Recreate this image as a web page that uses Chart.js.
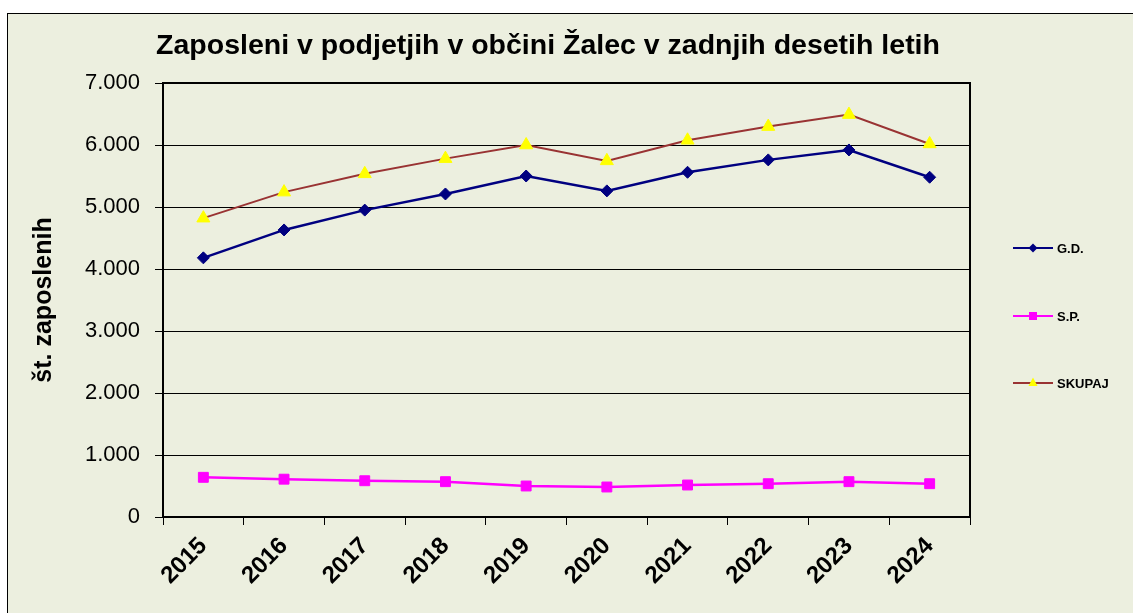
<!DOCTYPE html>
<html>
<head>
<meta charset="utf-8">
<script src="https://cdn.jsdelivr.net/npm/chart.js@4.4.1/dist/chart.umd.min.js"></script>
<style>
  html, body { margin:0; padding:0; background:#fff; width:1133px; height:613px; overflow:hidden; font-family:'Liberation Sans', Arial, sans-serif; }
  #frame { position:absolute; left:7px; top:13px; width:1126px; height:600px; border-left:1px solid #000; border-top:1px solid #000; background:#ECEFDF; box-sizing:border-box; }
  #chart { position:absolute; left:0; top:0; }
  #title { position:absolute; left:540px; top:16px; transform:translateX(-50%); white-space:nowrap; font-weight:bold; font-size:28.5px; line-height:1; color:#000; }
  .leg { position:absolute; left:1005px; height:16px; display:flex; align-items:center; font-weight:bold; font-size:13px; color:#000; }
  .leg svg { margin-right:4px; }
</style>
</head>
<body>
<div id="frame">
  <canvas id="chart" width="1125" height="599"></canvas>
  <div id="title">Zaposleni v podjetjih v občini Žalec v zadnjih desetih letih</div>
  <div class="leg" style="top:226px">
    <svg width="40" height="14"><line x1="0" y1="7" x2="40" y2="7" stroke="#000080" stroke-width="2"/><polygon points="20,2.5 24.5,7 20,11.5 15.5,7" fill="#000080"/></svg>G.D.
  </div>
  <div class="leg" style="top:294px">
    <svg width="40" height="14"><line x1="0" y1="7" x2="40" y2="7" stroke="#FF00FF" stroke-width="2"/><rect x="16" y="3" width="8" height="8" fill="#FF00FF"/></svg>S.P.
  </div>
  <div class="leg" style="top:361px">
    <svg width="40" height="14"><line x1="0" y1="7" x2="40" y2="7" stroke="#993333" stroke-width="2"/><polygon points="20,1.5 24.5,10 15.5,10" fill="#FFFF00"/></svg>SKUPAJ
  </div>
</div>
<script>
  // podatki, odčitani z grafa
  let years = ['2015','2016','2017','2018','2019','2020','2021','2022','2023','2024'];
  let gd = [4180, 4630, 4950, 5210, 5500, 5260, 5560, 5760, 5920, 5480];
  let sp = [640, 610, 585, 570, 500, 484, 516, 537, 570, 537];
  let skupaj = [4820, 5240, 5535, 5780, 6000, 5744, 6076, 6297, 6490, 6017];
  let yTicks = [0, 1000, 2000, 3000, 4000, 5000, 6000, 7000];

  function fmt(v) {
    return String(v).replace(/\B(?=(\d{3})+(?!\d))/g, '.');
  }

  //top and right edge of the plot area
  const frameLines = {
    id: 'frameLines',
    beforeDatasetsDraw(chart) {
      const ctx = chart.ctx;
      const a = chart.chartArea;
      ctx.save();
      ctx.strokeStyle = '#000';
      ctx.lineWidth = 2;
      ctx.beginPath();
      ctx.moveTo(a.left, a.top);
      ctx.lineTo(a.right, a.top);
      ctx.lineTo(a.right, a.bottom);
      ctx.stroke();
      ctx.restore();
    }
  };

  Chart.defaults.font.family = "'Liberation Sans', Arial, sans-serif";
  Chart.defaults.color = '#000';

  let ctx = document.getElementById('chart').getContext('2d');
  new Chart(ctx, {
    type: 'line',
    data: {
      labels: years,
      datasets: [{
        label: 'G.D.',
        data: gd,
        borderColor: '#000080',
        backgroundColor: '#000080',
        borderWidth: 2.5,
        pointStyle: 'rectRot',
        pointRadius: 6,
        pointBorderWidth: 1,
        tension: 0
      }, {
        label: 'S.P.',
        data: sp,
        borderColor: '#FF00FF',
        backgroundColor: '#FF00FF',
        borderWidth: 2.5,
        pointStyle: 'rect',
        pointRadius: 7,
        pointBorderWidth: 1,
        tension: 0
      }, {
        label: 'SKUPAJ',
        data: skupaj,
        borderColor: '#993333',
        backgroundColor: '#FFFF00',
        pointBorderColor: '#FFFF00',
        borderWidth: 2,
        pointStyle: 'triangle',
        pointRadius: 7.5,
        pointBorderWidth: 1,
        tension: 0
      }]
    },
    options: {
      responsive: false,
      animation: false,
      devicePixelRatio: 1,
      layout: { padding: { left: 0, right: 163, top: 69, bottom: 0 } },
      plugins: {
        legend: { display: false },
        tooltip: { enabled: false }
      },
      scales: {
        x: {
          offset: true,
          grid: { offset: true, drawOnChartArea: false, color: '#000', tickLength: 8, tickWidth: 1 },
          border: { display: true, color: '#000', width: 2 },
          ticks: {
            autoSkip: false, minRotation: 45, maxRotation: 45, padding: 7,
            font: { size: 24, weight: 'bold' }
          },
          afterFit: function (scale) { scale.height = 96; }
        },
        y: {
          min: 0,
          max: 7000,
          afterBuildTicks: function (scale) { scale.ticks = yTicks.map(v => ({ value: v })); },
          grid: { color: '#000', lineWidth: 1, tickLength: 8 },
          border: { display: true, color: '#000', width: 2 },
          ticks: { padding: 15, font: { size: 22 }, callback: v => fmt(v) },
          title: {
            display: true,
            text: 'št. zaposlenih',
            font: { size: 25, weight: 'bold' },
            padding: { top: 21, bottom: 0 }
          },
          afterFit: function (scale) { scale.width = 155; }
        }
      }
    },
    plugins: [frameLines]
  });
</script>
</body>
</html>
